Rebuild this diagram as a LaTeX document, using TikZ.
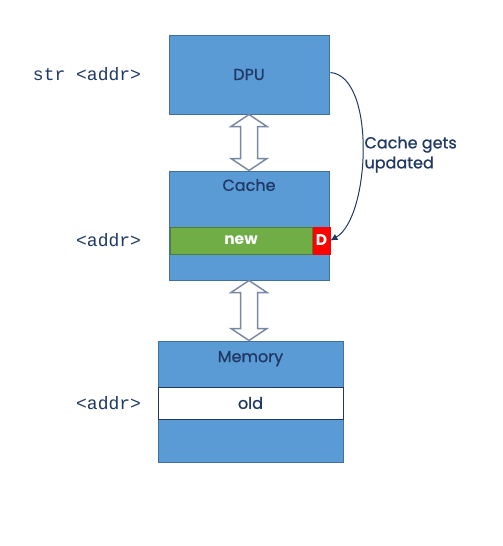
\documentclass[tikz,border=0pt]{standalone}
\usepackage{fontspec}
\setmainfont{Poppins}
\newfontfamily\medfont{Poppins}[FakeBold=0.8]
\setmonofont{Liberation Mono}
\usetikzlibrary{arrows.meta, positioning, calc}
\definecolor{boxblue}{HTML}{5B9BD5}
\definecolor{edgeblue}{HTML}{41719C}
\definecolor{navy}{HTML}{1F3864}
\definecolor{lineg}{HTML}{70AD47}
\definecolor{lineedge}{HTML}{507E32}
\definecolor{dirtyred}{HTML}{FF0000}
\definecolor{arrgray}{HTML}{7888A3}

\begin{document}
\begin{tikzpicture}[
  x=1pt, y=-1pt,
  >={Latex[length=7pt, width=7pt]},
  unit/.style={
    draw=edgeblue, line width=1pt, fill=boxblue,
    minimum width=#1, inner sep=0pt
  },
  ulbl/.style={font=\medfont\fontsize{16}{20}\selectfont, text=navy},
  cline/.style={
    draw=#1, line width=1pt, minimum height=27pt, inner sep=0pt,
    font=\fontsize{15.5}{17}\selectfont\bfseries, text=white
  },
  addr/.style={font=\fontsize{18}{20}\selectfont\ttfamily, text=navy},
  dblarr/.style={draw=arrgray, line width=1.5pt, fill=white, line join=miter},
  upd/.style={->, line width=1pt, navy},
]

\useasboundingbox (0,0) rectangle (503,546);

% Boxes
\node[unit=160pt, minimum height=79pt, ulbl] (dpu) at (249,74.5) {DPU};
\node[unit=160pt, minimum height=109pt] (cache) at (249,225.5) {};
\node[unit=185pt, minimum height=121pt] (mem) at (250.5,401.5) {};

\node[ulbl, anchor=north] (cachelbl) at ($(cache.north)+(0,5)$) {Cache};
\node[ulbl, anchor=north] (memlbl) at ($(mem.north)+(0,7)$) {Memory};

% Cache line and memory line
\node[cline=lineedge, fill=lineg, minimum width=142pt] (newbar) at (241,240.5) {new};
\node[cline=dirtyred, fill=dirtyred, minimum width=17pt, right=0pt of newbar] (dirty) {D};
\node[draw=navy, line width=1pt, fill=white, minimum width=185pt, minimum height=32pt,
  inner sep=0pt, ulbl] (oldbar) at (250.5,403) {old};

% Addresses
\node[addr, left=24pt of dpu] (stradr) {str <addr>};
\node[addr, left=25pt of newbar] (cacheadr) {<addr>};
\node[addr, left=13pt of oldbar] (memadr) {<addr>};

% Double arrows
\draw[dblarr] let \p1=(dpu.south), \p2=(cache.north) in
  (\p1) -- (\x1+18,\y1-12) -- (\x1+8.5,\y1-12) -- (\x1+8.5,\y2+12)
  -- (\x1+18,\y2+12) -- (\x1,\y2) -- (\x1-18,\y2+12) -- (\x1-8.5,\y2+12)
  -- (\x1-8.5,\y1-12) -- (\x1-18,\y1-12) -- cycle;
\draw[dblarr] let \p1=(cache.south), \p2=(mem.north) in
  (\p1) -- (\x1+18,\y1-12) -- (\x1+8.5,\y1-12) -- (\x1+8.5,\y2+12)
  -- (\x1+18,\y2+12) -- (\x1,\y2) -- (\x1-18,\y2+12) -- (\x1-8.5,\y2+12)
  -- (\x1-8.5,\y1-12) -- (\x1-18,\y1-12) -- cycle;

% Update arrow
\draw[upd] ($(dpu.east)+(1,-2)$) to[out=-5, in=30, looseness=0.7] (dirty.east);
\node[ulbl, align=left, anchor=north west] (updlbl) at (361,133)
  {Cache gets\\updated};

\end{tikzpicture}
\end{document}
